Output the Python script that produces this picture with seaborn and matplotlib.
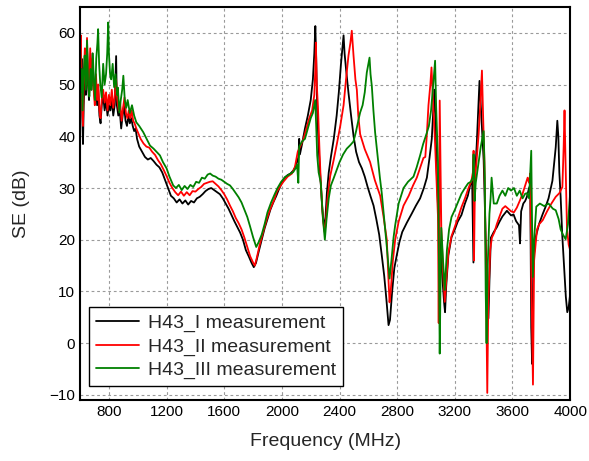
import numpy as np
import pandas as pd
import matplotlib
matplotlib.use("Agg")
import matplotlib.pyplot as plt
import seaborn as sns
from matplotlib.ticker import MultipleLocator

sns.set_style("white")
plt.rcParams['font.family'] = ['Liberation Sans', 'DejaVu Sans']

# ---- du lieu doc tu hinh (MHz, dB) ----
f_1 = [600, 605, 610, 615, 620, 625, 632, 640, 648, 655, 662, 670, 678, 686, 694, 702, 710, 718,
       726, 734, 742, 750, 760, 770, 780, 790, 800, 810, 820, 830, 840, 850, 855, 865, 875, 885,
       895, 905, 915, 925, 935, 945, 955, 965, 975, 985, 995, 1010, 1030, 1050, 1070, 1090, 1110,
       1130, 1150, 1170, 1190, 1210, 1230, 1250, 1270, 1290, 1310, 1330, 1350, 1370, 1390, 1410,
       1430, 1450, 1470, 1490, 1510, 1530, 1550, 1570, 1590, 1610, 1630, 1650, 1670, 1690, 1710,
       1730, 1750, 1770, 1790, 1805, 1820, 1840, 1860, 1880, 1900, 1920, 1940, 1960, 1980, 2000,
       2020, 2040, 2060, 2080, 2100, 2115, 2120, 2125, 2140, 2160, 2180, 2200, 2215, 2225, 2232,
       2238, 2245, 2255, 2265, 2280, 2295, 2302, 2312, 2325, 2340, 2360, 2380, 2395, 2410, 2420,
       2428, 2435, 2445, 2462, 2480, 2497, 2515, 2535, 2555, 2575, 2595, 2615, 2636, 2655, 2675,
       2693, 2710, 2725, 2740, 2750, 2765, 2780, 2797, 2815, 2835, 2867, 2900, 2930, 2959, 2985,
       3006, 3025, 3040, 3050, 3058, 3065, 3072, 3083, 3095, 3110, 3125, 3132, 3140, 3155, 3177,
       3200, 3220, 3246, 3270, 3290, 3306, 3320, 3329, 3335, 3345, 3352, 3362, 3371, 3380, 3392,
       3400, 3410, 3418, 3433, 3440, 3450, 3470, 3491, 3510, 3530, 3561, 3590, 3607, 3625, 3645,
       3652, 3660, 3675, 3688, 3700, 3715, 3723, 3730, 3736, 3745, 3760, 3785, 3810, 3830, 3850,
       3877, 3890, 3900, 3911, 3918, 3925, 3934, 3945, 3957, 3970, 3980, 3990, 4000]
se_1 = [52, 47, 55, 44, 38.5, 46, 52, 48, 57, 50, 47, 54, 49, 56, 50, 47, 51, 46,
        49, 44, 42.5, 46, 48, 45, 47, 44, 46, 45, 47, 44, 46, 55.5, 46, 44, 45, 41.5,
        44, 46, 43, 42, 44, 42.5, 43.5, 42, 41, 41.5, 39.5, 38, 37, 36, 35.5, 35.8, 35.2,
        34.5, 34, 33, 31.5, 30, 28.5, 28, 27.2, 27.8, 27, 27.6, 26.8, 27.5, 27.2, 28,
        28.3, 28.8, 29.4, 29.8, 30, 29.6, 29.2, 28.8, 28, 27, 26, 24.8, 23.6, 22.5, 21.4,
        20, 18, 16.8, 15.5, 14.7, 15.5, 17.8, 20, 22.2, 24, 25.8, 27.2, 28.4, 29.8, 31,
        32, 32.5, 32.8, 33.4, 34.5, 36, 39.5, 36.5, 38.5, 41.5, 44, 47, 51, 56, 61.3,
        55, 45, 38, 33, 26, 22, 24, 29, 33, 36, 39.5, 44, 48.5, 54, 57,
        59.5, 56, 53, 48.4, 44, 40.1, 37, 35, 33.8, 32.2, 30.2, 28.4, 26.6, 24, 21,
        17, 13, 8.5, 3.5, 4.5, 10, 14.5, 17, 19.5, 21.5, 23.3, 25, 26.6, 28, 30,
        32, 36, 39.5, 45, 49, 43, 35, 26.7, 20, 14, 8, 6, 11, 17, 20.5,
        22, 23.5, 24.8, 27, 28.5, 30.5, 31.4, 15.6, 30, 35, 38.5, 45, 50.7, 46, 40,
        35.3, 25, 16, 4.8, 12, 20.4, 21.5, 22.4, 23.5, 24.5, 25.6, 24.7, 24.9, 23.6, 22.8,
        19.3, 25.5, 27, 27.5, 28.3, 30, 30.5, 3.1, -4, 16, 20.4, 23.1, 25, 26.4, 28,
        31.4, 35, 37.9, 43, 40, 33, 28.3, 21, 15.4, 9, 6, 7, 9.5]

f_2 = [600, 605, 610, 615, 620, 626, 633, 640, 648, 655, 662, 670, 678, 686, 694, 702, 710, 718,
       726, 734, 742, 750, 760, 770, 780, 790, 800, 810, 820, 830, 840, 850, 858, 868, 878, 888,
       898, 908, 918, 928, 938, 948, 958, 968, 978, 990, 1005, 1020, 1040, 1060, 1080, 1100, 1120,
       1140, 1160, 1180, 1200, 1220, 1240, 1260, 1280, 1300, 1320, 1340, 1360, 1380, 1400, 1420,
       1440, 1460, 1480, 1500, 1520, 1540, 1560, 1580, 1600, 1620, 1640, 1660, 1680, 1700, 1720,
       1740, 1760, 1780, 1800, 1812, 1825, 1845, 1870, 1895, 1920, 1945, 1965, 1990, 2010, 2040,
       2070, 2090, 2110, 2130, 2150, 2170, 2190, 2210, 2225, 2232, 2236, 2242, 2250, 2260, 2270,
       2285, 2296, 2304, 2315, 2335, 2360, 2382, 2405, 2428, 2445, 2462, 2475, 2485, 2497, 2510,
       2520, 2530, 2543, 2575, 2612, 2645, 2682, 2705, 2728, 2740, 2747, 2755, 2770, 2786, 2810,
       2844, 2880, 2910, 2936, 2960, 2982, 2995, 3005, 3017, 3030, 3038, 3050, 3061, 3075, 3083,
       3088, 3092, 3095, 3100, 3106, 3118, 3130, 3140, 3155, 3177, 3200, 3225, 3246, 3270, 3295,
       3315, 3325, 3330, 3333, 3340, 3350, 3365, 3378, 3388, 3395, 3405, 3413, 3420, 3425, 3432,
       3445, 3457, 3475, 3491, 3510, 3530, 3550, 3570, 3590, 3610, 3630, 3650, 3670, 3688, 3705,
       3715, 3723, 3732, 3742, 3750, 3770, 3785, 3810, 3840, 3870, 3900, 3925, 3946, 3955, 3961,
       3968, 3978, 3990, 4000]
se_2 = [56, 59.5, 50, 46, 42, 52, 57, 50, 59, 52, 48, 57, 51, 55, 49, 46, 52, 47,
        50, 45, 43.5, 47, 49, 46.5, 48.5, 45, 48, 46, 49, 45.5, 47.5, 51, 47, 45, 46.5, 43,
        45.5, 47.5, 44.5, 43.5, 45, 43.5, 45, 43, 42.5, 41.5, 40.5, 39.5, 38.6, 38, 37.8, 37, 36.4,
        35.4, 34.6, 33.5, 32.3, 31, 30, 29.2, 28.6, 29.3, 28.5, 29.2, 28.6, 29.4, 29.3, 29.8,
        30.2, 30.8, 31, 31.2, 31.3, 30.8, 30.3, 29.6, 28.8, 27.8, 26.6, 25.5, 24.2, 23.2, 22,
        20.4, 18.6, 16.8, 15.6, 15, 16.4, 18.9, 21.5, 24, 26, 27.6, 29.3, 30.4, 31.2, 32.2,
        32.8, 34, 37, 38.2, 39.5, 41.5, 43.5, 45, 48, 53, 58.1, 50, 45.8, 38, 31,
        24, 21.5, 23, 27.5, 32.3, 35.5, 38.6, 42, 46, 51, 55.6, 58, 60.4, 55.6, 51,
        49, 44, 40.4, 37.5, 35, 31.5, 28.5, 24.5, 20, 12, 7.9, 10, 16, 20, 23.5,
        26.6, 28.5, 30.5, 32, 34, 35.8, 36, 40, 46, 50, 53.3, 46, 39.8, 30, 24.4,
        3.9, 25, 46.9, 35, 22.3, 14, 8, 12, 17.5, 20.7, 22.5, 24.5, 26.3, 28, 30,
        31.4, 33, 37.2, 16, 32, 35, 40.4, 47, 52.7, 45, 35, 20, 2, -9.6, 8,
        18, 20.4, 21.5, 23, 24.5, 26, 26.5, 26, 25.5, 25.3, 26.2, 27.5, 28.9, 30.5, 32,
        31, 32.8, 10, -8, 16, 22, 23, 23.8, 25.5, 27, 28.3, 29, 30.2, 38, 45,
        35, 22.2, 19, 18]

f_3 = [600, 604, 610, 617, 624, 632, 640, 648, 656, 664, 672, 680, 688, 696, 704, 712, 720, 725,
       732, 740, 750, 760, 770, 780, 788, 795, 800, 808, 816, 826, 836, 846, 856, 862, 872, 882,
       892, 900, 910, 920, 930, 945, 960, 975, 990, 1010, 1038, 1060, 1085, 1110, 1130, 1154, 1175,
       1200, 1220, 1246, 1265, 1285, 1305, 1325, 1345, 1365, 1385, 1405, 1425, 1445, 1465, 1485,
       1502, 1520, 1540, 1560, 1580, 1600, 1620, 1640, 1660, 1680, 1700, 1720, 1740, 1760, 1780,
       1800, 1822, 1840, 1860, 1880, 1900, 1925, 1950, 1970, 1995, 2021, 2050, 2079, 2095, 2105,
       2114, 2120, 2140, 2160, 2180, 2200, 2215, 2225, 2231, 2238, 2245, 2255, 2270, 2285, 2298,
       2310, 2325, 2340, 2358, 2380, 2400, 2425, 2450, 2475, 2497, 2515, 2530, 2543, 2560, 2575,
       2589, 2600, 2608, 2615, 2624, 2635, 2647, 2665, 2680, 2693, 2710, 2728, 2747, 2760, 2775,
       2786, 2810, 2844, 2875, 2913, 2935, 2959, 2980, 3006, 3020, 3035, 3050, 3063, 3070, 3083,
       3090, 3095, 3100, 3106, 3118, 3130, 3145, 3160, 3177, 3200, 3225, 3246, 3270, 3292, 3310,
       3325, 3330, 3337, 3345, 3360, 3380, 3400, 3408, 3414, 3420, 3428, 3440, 3448, 3455, 3470,
       3491, 3510, 3530, 3550, 3570, 3590, 3610, 3630, 3650, 3670, 3688, 3700, 3715, 3730, 3735,
       3741, 3750, 3765, 3790, 3820, 3850, 3880, 3900, 3920, 3934, 3950, 3969, 3985, 4000]
se_3 = [57, 48.5, 53, 45, 52, 55.6, 49, 58.5, 50, 47.7, 53, 49, 56, 50.5, 47, 55, 58, 60.7,
        54, 50, 47.5, 54, 50, 52, 56, 62, 56, 52, 51, 54, 49.5, 52, 48, 49.4, 44.6, 47,
        49, 51.7, 47, 45.5, 47, 44.5, 46, 44, 42.7, 42, 40.8, 39.6, 38.2, 37.6, 37, 36.3, 35,
        33.8, 32.2, 30.5, 30, 30.6, 29.6, 30.4, 29.8, 30.6, 30.2, 31.2, 31, 32, 31.8, 32.6,
        32.8, 32.4, 32.2, 31.8, 31.6, 31.2, 30.8, 30.5, 29.8, 29, 28.2, 27.2, 25.8, 24.4, 22.5,
        20.5, 18.6, 19.6, 21, 23, 25.3, 27.2, 28.8, 30, 31.2, 32.1, 32.6, 33.1, 33.8, 34.5,
        31, 38, 39, 39.5, 41.5, 43.5, 44.5, 46, 47, 42, 36.3, 33, 31, 24, 20,
        24, 28, 30.5, 31.8, 33.5, 35, 36.5, 37.6, 38.3, 39, 41, 43, 44.6, 46, 48.5,
        52.3, 54, 55.2, 52, 49.7, 45, 40.7, 36, 32, 29, 24, 18.6, 12.5, 16, 20.5,
        22.8, 27, 30, 31.2, 32.2, 34, 36.3, 38.5, 40.7, 42, 45, 50, 54.6, 46, 35,
        15, -2, 10, 22.3, 16, 10.3, 18, 22, 24.4, 25.8, 27.5, 28.9, 30, 30.9, 31.2,
        32, 36.5, 27.5, 31, 34, 38, 41, 32, 10, 0, 15, 25, 28, 32, 27,
        27, 28.5, 29.5, 28.5, 30, 29.5, 30, 28.5, 29.5, 28, 28.9, 29, 28, 37.2, 25,
        12.8, 20, 26.4, 27, 26.5, 27, 26, 25.7, 24, 22, 21, 20.1, 23, 29]

series = ['H43_I measurement', 'H43_II measurement', 'H43_III measurement']
colors = ['#000000', '#ff0000', '#008000']

fig, ax = plt.subplots(figsize=(5.89, 4.61), dpi=100)
fig.subplots_adjust(left=0.136, right=0.968, bottom=0.132, top=0.985)

for name, fx, sx, c in zip(series, [f_1, f_2, f_3], [se_1, se_2, se_3], colors):
    sns.lineplot(x=fx, y=sx, ax=ax, color=c, lw=1.3, label=name, sort=False)

ax.set_xlim(600, 4000)
ax.set_ylim(-11, 65)
ax.xaxis.set_major_locator(MultipleLocator(400))
ax.xaxis.set_minor_locator(MultipleLocator(200))
ax.yaxis.set_major_locator(MultipleLocator(10))
ax.yaxis.set_minor_locator(MultipleLocator(5))
ax.set_xticks([800, 1200, 1600, 2000, 2400, 2800, 3200, 3600, 4000])

ax.grid(True, which='major', color='#9a9a9a', linestyle=(0, (2.5, 2.5)), linewidth=0.8)
ax.tick_params(which='both', direction='in', top=False, right=False, labelsize=11, colors='black')
ax.tick_params(which='major', length=5, width=1.2)
ax.tick_params(which='minor', length=3, width=1.0)
for sp in ax.spines.values():
    sp.set_color('black')
    sp.set_linewidth(1.5)

ax.set_xlabel('Frequency (MHz)', fontsize=14, labelpad=10)
ax.set_ylabel('SE (dB)', fontsize=14, labelpad=14)

leg = ax.legend(loc='lower left', bbox_to_anchor=(0.018, 0.036), borderaxespad=0,
                fontsize=14, frameon=True, fancybox=False,
                handlelength=2.2, handletextpad=0.5,
                labelspacing=0.3, borderpad=0.35)
leg.get_frame().set_edgecolor('black')
leg.get_frame().set_linewidth(1.0)
leg.get_frame().set_alpha(1)

fig.savefig('out.png', dpi=100)
